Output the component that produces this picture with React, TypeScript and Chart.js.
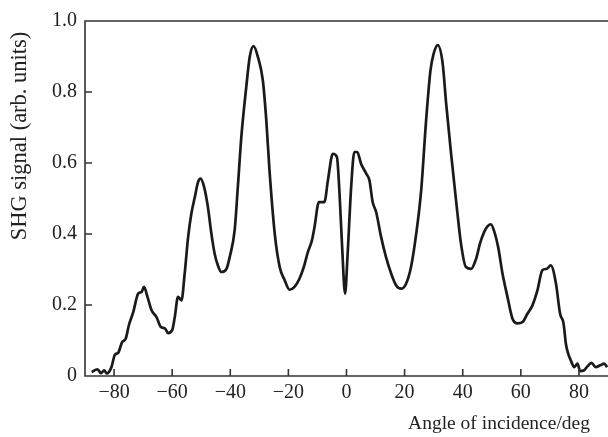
import React, { useEffect, useRef } from 'react';
import { Chart, registerables } from 'chart.js';

Chart.register(...registerables);

const angles = [
  -87.7, -85.7, -84.5, -83.4, -82.5, -80.9, -79.7, -78.6, -77.2, -76.0, -74.9, -73.4, -71.7, -70.5, -69.7,
  -68.5, -67.1, -65.4, -63.9, -62.5, -61.4, -60.0, -59.1, -58.0, -56.8, -55.7, -54.5, -53.4, -52.2, -51.1,
  -50.2, -49.0, -47.7, -46.5, -45.4, -44.2, -43.1, -41.3, -40.2, -38.5, -37.4, -36.2, -34.5, -33.3, -32.0,
  -30.5, -28.8, -27.6, -26.5, -24.7, -23.0, -21.3, -19.6, -17.9, -16.2, -14.7, -13.3, -11.9, -11.0, -9.5,
  -7.6, -6.4, -4.7, -3.3, -2.4, -1.5, -0.5, 0.4, 1.6, 2.7, 3.7, 5.0, 6.8, 7.9, 9.0, 10.2, 11.9, 13.6, 15.4,
  17.1, 18.8, 20.5, 22.2, 24.0, 25.7, 27.4, 28.9, 30.0, 31.4, 33.1, 34.3, 36.0, 37.7, 39.4, 41.1, 42.9, 44.6,
  46.0, 47.4, 48.6, 49.7, 50.9, 52.2, 53.7, 55.4, 57.1, 58.9, 60.6, 62.3, 64.0, 65.7, 67.4, 69.0, 70.3, 72.1,
  73.5, 74.7, 75.5, 76.3, 77.2, 78.4, 79.5, 80.4, 81.8, 82.9, 84.3, 85.8, 87.3, 88.7, 89.7,
];

const signal = [
  0.011, 0.019, 0.008, 0.016, 0.007, 0.025, 0.06, 0.065, 0.096, 0.105, 0.143, 0.18, 0.232, 0.237, 0.251,
  0.223, 0.185, 0.166, 0.138, 0.134, 0.121, 0.129, 0.166, 0.223, 0.213, 0.288, 0.392, 0.457, 0.504, 0.546,
  0.556, 0.532, 0.476, 0.401, 0.345, 0.31, 0.293, 0.302, 0.335, 0.41, 0.532, 0.673, 0.814, 0.899, 0.929,
  0.899, 0.833, 0.72, 0.579, 0.401, 0.307, 0.27, 0.243, 0.251, 0.274, 0.307, 0.349, 0.382, 0.42, 0.49,
  0.49, 0.551, 0.626, 0.617, 0.514, 0.363, 0.232, 0.345, 0.532, 0.631, 0.631, 0.598, 0.57, 0.551, 0.49, 0.462, 0.392, 0.335, 0.288,
  0.255, 0.246, 0.26, 0.307, 0.401, 0.523, 0.72, 0.861, 0.908, 0.932, 0.88, 0.767, 0.626, 0.495, 0.373, 0.307, 0.302, 0.33,
  0.375, 0.406, 0.422, 0.427, 0.406, 0.363, 0.288, 0.223, 0.162, 0.148, 0.152, 0.176, 0.199, 0.241, 0.298, 0.302, 0.312, 0.26,
  0.176, 0.148, 0.091, 0.063, 0.044, 0.025, 0.035, 0.014, 0.016, 0.027, 0.037, 0.025, 0.03, 0.035, 0.025,
];

const xTicks = [-80, -60, -40, -20, 0, 20, 40, 60, 80];
const yTicks = [0, 0.2, 0.4, 0.6, 0.8, 1.0];
const xTitle = 'Angle of incidence/deg';
const yTitle = 'SHG signal (arb. units)';

const FONT = '"Liberation Serif", "Times New Roman", serif';
const TEXT = '#222';
const AXIS = '#333';

const framePlugin = {
  id: 'frame',
  afterDraw(chart: any) {
    const { ctx, chartArea } = chart;
    const { left, right, top, bottom } = chartArea;
    const xs = chart.scales.x;
    const ys = chart.scales.y;
    ctx.save();
    ctx.strokeStyle = AXIS;
    ctx.lineWidth = 1.6;
    ctx.beginPath();
    ctx.moveTo(right + 2, top);
    ctx.lineTo(left, top);
    ctx.lineTo(left, bottom);
    ctx.lineTo(right + 2, bottom);
    for (const v of xTicks) {
      const px = xs.getPixelForValue(v);
      ctx.moveTo(px, bottom);
      ctx.lineTo(px, bottom - 7);
    }
    for (const v of yTicks) {
      const py = ys.getPixelForValue(v);
      ctx.moveTo(left, py);
      ctx.lineTo(left + 7, py);
    }
    ctx.stroke();

    ctx.fillStyle = TEXT;
    ctx.font = `19.5px ${FONT}`;
    ctx.textAlign = 'right';
    ctx.textBaseline = 'alphabetic';
    ctx.fillText(xTitle, 590, 429);

    ctx.font = `22.5px ${FONT}`;
    ctx.translate(20, 136);
    ctx.rotate(-Math.PI / 2);
    ctx.textAlign = 'center';
    ctx.textBaseline = 'middle';
    ctx.fillText(yTitle, 0, 0);
    ctx.restore();
  },
};

export default function App() {
  const ref = useRef<HTMLCanvasElement | null>(null);

  useEffect(() => {
    if (!ref.current) return;
    const chart = new Chart(ref.current, {
      type: 'line',
      data: {
        datasets: [
          {
            data: angles.map((a, i) => ({ x: a, y: signal[i] })),
            borderColor: '#1a1a1a',
            borderWidth: 2.7,
            pointRadius: 0,
            fill: false,
            cubicInterpolationMode: 'monotone',
          },
        ],
      },
      options: {
        responsive: false,
        animation: false,
        events: [],
        layout: { padding: { left: 0, top: 21, right: 0, bottom: 0 } },
        plugins: { legend: { display: false }, tooltip: { enabled: false } },
        scales: {
          x: {
            type: 'linear',
            min: -90,
            max: 90,
            grid: { display: false, drawTicks: false },
            border: { display: false },
            afterBuildTicks: (s: any) => {
              s.ticks = xTicks.map((v) => ({ value: v }));
            },
            afterFit: (s: any) => {
              s.height = 61;
            },
            ticks: {
              padding: 5,
              color: TEXT,
              font: { family: FONT, size: 20 },
              maxRotation: 0,
              autoSkip: false,
              callback: (v: any) => (v < 0 ? '\u2212' + Math.abs(v) : String(v)),
            },
          },
          y: {
            type: 'linear',
            min: 0,
            max: 1,
            grid: { display: false, drawTicks: false },
            border: { display: false },
            afterBuildTicks: (s: any) => {
              s.ticks = yTicks.map((v) => ({ value: v }));
            },
            afterFit: (s: any) => {
              s.width = 85;
            },
            ticks: {
              padding: 8,
              color: TEXT,
              font: { family: FONT, size: 20 },
              autoSkip: false,
              callback: (v: any) => (v === 0 ? '0' : Number(v).toFixed(1)),
            },
          },
        },
      },
      plugins: [framePlugin],
    } as any);
    return () => chart.destroy();
  }, []);

  return (
    <div style={{ position: 'fixed', left: 0, top: 0, width: 608, height: 437, background: '#fff' }}>
      <canvas ref={ref} width={608} height={437} style={{ display: 'block', width: 608, height: 437 }} />
    </div>
  );
}
